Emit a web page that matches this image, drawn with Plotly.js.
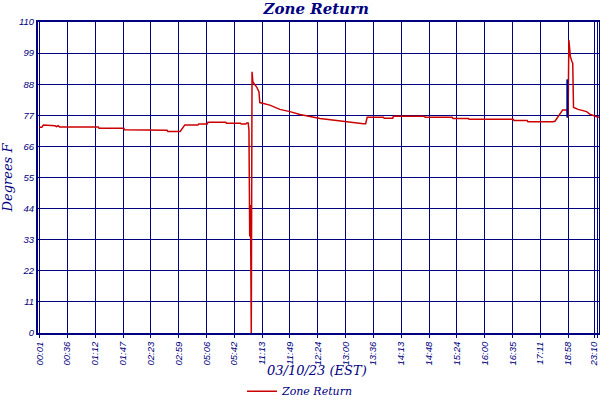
<!DOCTYPE html>
<html>
<head>
<meta charset="utf-8">
<script src="https://cdn.plot.ly/plotly-3.0.1.min.js"></script>
<style>
  body { margin: 0; background: #fff; }
  #chart { width: 600px; height: 400px; }
</style>
</head>
<body>
<div id="chart"></div>
<script>
// sample number (about one reading a minute) and zone return temperature
var sampleIdx = [0, 3, 5, 15, 17, 20, 22, 24, 26, 76, 77, 109, 110, 142, 143, 165, 166, 182,
  188, 205, 206, 217, 218, 241, 242, 260, 261, 267, 268, 270, 271, 272, 273, 274, 275, 276,
  279, 281, 284, 285, 298, 311, 324, 337, 363, 389, 393, 419, 422, 424, 445, 446, 457, 458,
  498, 499, 534, 535, 555, 556, 613, 614, 631, 632, 664, 667, 677, 683, 684, 685, 686, 687,
  689, 690, 691, 697, 708, 712, 721, 724];
var zoneReturn = [72.8, 72.8, 73.6, 73.5, 73.3, 73.3, 73.0, 73.3, 72.9, 72.9, 72.4, 72.4, 71.9,
  71.9, 71.7, 71.7, 71.3, 71.3, 73.6, 73.6, 73.9, 73.9, 74.5, 74.5, 74.2, 74.2, 73.9, 73.9,
  74.3, 74.3, 71.8, 34.1, 45.3, 0, 92.4, 88.9, 87.7, 87.0, 85.3, 81.5, 80.6, 79.1, 78.3, 77.3,
  75.9, 75.0, 74.7, 74.0, 74.0, 76.3, 76.3, 76.0, 76.0, 76.7, 76.7, 76.3, 76.3, 75.9, 75.9,
  75.6, 75.6, 75.2, 75.2, 74.7, 74.7, 74.9, 78.9, 78.9, 76.2, 103.6, 100.7, 97.7, 96.0, 95.4,
  79.8, 79.1, 78.3, 77.4, 76.5, 76.3];

// short dark blue mark near 18:58
var markIdx = [683, 683];
var markVal = [76.2, 89.7];

var tickIdx = [0, 36, 72, 108, 144, 180, 216, 252, 288, 324, 360, 396, 432, 468, 504, 540,
  576, 612, 648, 684, 718, 722];
var tickLabels = ["00:01", "00:36", "01:12", "01:47", "02:23", "02:59", "05:06", "05:42",
  "11:13", "11:49", "12:24", "13:00", "13:36", "14:13", "14:48", "15:24", "16:00", "16:35",
  "17:11", "18:58", "23:10", "23:16"];
var yTicks = [0, 11, 22, 33, 44, 55, 66, 77, 88, 99, 110];

var navy = "#000080";
var tickFont = { family: "Liberation Sans", size: 9.5, color: navy, style: "italic" };
var titleFont = { family: "DejaVu Serif", size: 13, color: navy, style: "italic" };

var data = [
  {
    x: sampleIdx, y: zoneReturn,
    type: "scatter", mode: "lines",
    name: "Zone Return",
    line: { color: "#cc0000", width: 1.5 }
  },
  {
    x: markIdx, y: markVal,
    type: "scatter", mode: "lines",
    showlegend: false,
    line: { color: navy, width: 2 }
  }
];

var layout = {
  width: 600, height: 400,
  margin: { l: 38, r: 1, t: 22, b: 67 },
  paper_bgcolor: "#fff", plot_bgcolor: "#fff",
  title: {
    text: "<b>Zone Return</b>",
    font: { family: "DejaVu Serif", size: 15, color: navy, style: "italic" },
    x: 0.527, xanchor: "center", y: 0.978, yanchor: "middle",
    automargin: false
  },
  xaxis: {
    automargin: false,
    range: [-2, 724],
    tickmode: "array", tickvals: tickIdx, ticktext: tickLabels,
    tickangle: -90, tickfont: tickFont,
    ticks: "outside", ticklen: 3, tickcolor: navy,
    showgrid: true, gridcolor: navy, gridwidth: 1,
    showline: true, linecolor: navy, linewidth: 2, mirror: true,
    zeroline: false
  },
  yaxis: {
    automargin: false,
    range: [0, 110],
    tickmode: "array", tickvals: yTicks,
    tickfont: tickFont,
    showgrid: true, gridcolor: navy, gridwidth: 1,
    showline: true, linecolor: navy, linewidth: 2, mirror: true,
    zeroline: false,
    title: { text: "Degrees F", font: titleFont, standoff: 4 }
  },
  annotations: [
    {
      text: "03/10/23 (EST)", font: titleFont, showarrow: false,
      xref: "paper", yref: "paper", x: 0.497, xanchor: "center",
      y: -0.122, yanchor: "middle"
    }
  ],
  showlegend: true,
  legend: {
    orientation: "h", xref: "container", yref: "container",
    x: 0.5, xanchor: "center", y: 0.022, yanchor: "middle",
    font: { family: "DejaVu Serif", size: 11, color: navy, style: "italic" }
  }
};

Plotly.newPlot("chart", data, layout, { displayModeBar: false, staticPlot: true });
</script>
</body>
</html>
